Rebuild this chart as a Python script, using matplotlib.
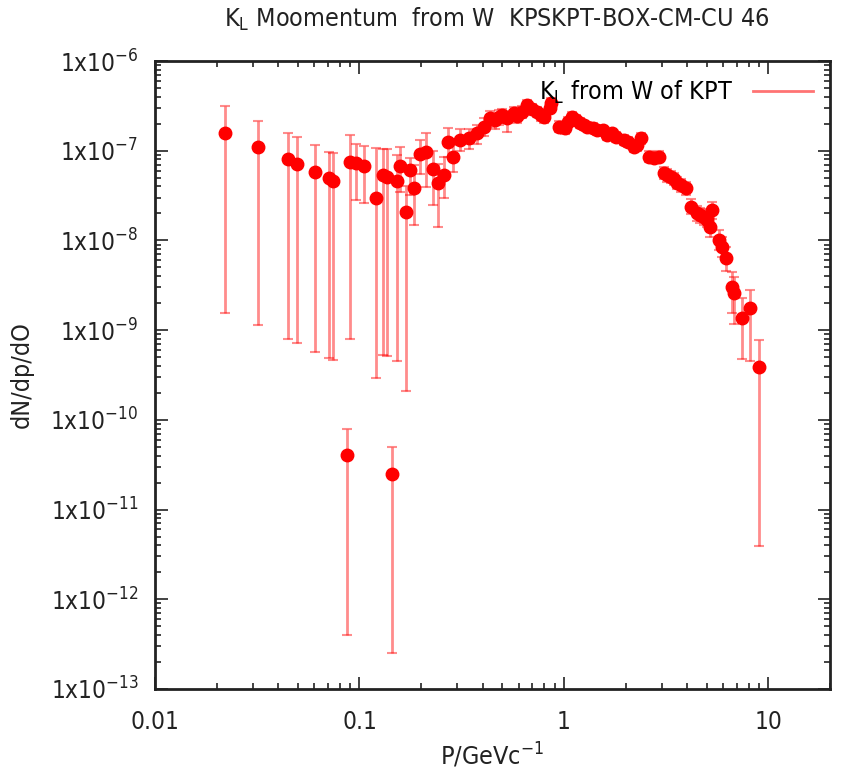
import numpy as np
import matplotlib
matplotlib.use("Agg")
import matplotlib.pyplot as plt
from matplotlib.lines import Line2D
from matplotlib.ticker import LogLocator, FixedLocator, NullFormatter

plt.rcParams['font.family'] = ['DejaVu Sans']
plt.rcParams['font.stretch'] = 'condensed'
plt.rcParams['mathtext.default'] = 'regular'

# K_L momentum spectrum: momentum, dN/dp/dO, and lower / upper ends of the error bars
p = [0.022, 0.0318, 0.0446, 0.0497, 0.0605, 0.0713, 0.0746, 0.0868, 0.090, 0.0965,
     0.1047, 0.1208, 0.131, 0.137, 0.145, 0.152, 0.158, 0.169, 0.176, 0.184,
     0.198, 0.212, 0.229, 0.242, 0.258, 0.271, 0.288, 0.311, 0.342, 0.376,
     0.405, 0.436, 0.46, 0.479, 0.50, 0.526, 0.567, 0.59, 0.624, 0.66,
     0.70, 0.738, 0.77, 0.796, 0.858, 0.868, 0.942, 1.016, 1.05, 1.095,
     1.15, 1.20, 1.25, 1.30, 1.38, 1.45, 1.55, 1.63, 1.72, 1.79,
     1.96, 2.05, 2.19, 2.28, 2.37, 2.60, 2.75, 2.91, 3.08, 3.2,
     3.32, 3.45, 3.58, 3.75, 3.93, 4.16, 4.48, 4.65, 4.83, 5.0,
     5.2, 5.31, 5.72, 5.9, 6.17, 6.65, 6.77, 7.44, 8.11, 8.98]

dndp = [1.57e-7, 1.09e-7, 8.0e-8, 7.1e-8, 5.8e-8, 4.92e-8, 4.63e-8, 4.05e-11, 7.5e-8, 7.3e-8,
        6.75e-8, 3.0e-8, 5.36e-8, 5.1e-8, 2.49e-11, 4.6e-8, 6.75e-8, 2.09e-8, 6.1e-8, 3.8e-8,
        9.2e-8, 9.75e-8, 6.2e-8, 4.33e-8, 5.36e-8, 1.26e-7, 8.6e-8, 1.32e-7, 1.37e-7, 1.56e-7,
        1.85e-7, 2.3e-7, 2.2e-7, 2.39e-7, 2.5e-7, 2.3e-7, 2.61e-7, 2.45e-7, 2.72e-7, 3.23e-7,
        2.9e-7, 2.72e-7, 2.5e-7, 2.39e-7, 2.97e-7, 3.38e-7, 1.85e-7, 1.78e-7, 2.1e-7, 2.39e-7,
        2.2e-7, 2.02e-7, 1.92e-7, 1.85e-7, 1.8e-7, 1.7e-7, 1.7e-7, 1.5e-7, 1.56e-7, 1.43e-7,
        1.32e-7, 1.25e-7, 1.11e-7, 1.15e-7, 1.37e-7, 8.6e-8, 8.4e-8, 8.6e-8, 5.6e-8, 5.3e-8,
        5.13e-8, 4.8e-8, 4.33e-8, 4.1e-8, 3.81e-8, 2.38e-8, 2.0e-8, 1.9e-8, 1.84e-8, 1.7e-8,
        1.42e-8, 2.18e-8, 1.01e-8, 8.5e-9, 6.3e-9, 3.05e-9, 2.61e-9, 1.35e-9, 1.75e-9, 3.9e-10]

err_lo = [1.55e-9, 1.14e-9, 7.9e-10, 7.1e-10, 5.75e-10, 4.9e-10, 4.6e-10, 4.0e-13, 7.9e-10, 2.8e-8,
          2.6e-8, 2.95e-10, 5.3e-10, 5.2e-10, 2.5e-13, 4.5e-10, 3.5e-8, 2.1e-10, 3.2e-8, 1.5e-8,
          5.5e-8, 3.96e-8, 2.5e-8, 1.42e-8, 3.0e-8, 8.5e-8, 5.8e-8, 1.0e-7, 1.05e-7, 1.2e-7,
          1.45e-7, 1.85e-7, 1.75e-7, 1.95e-7, 2.05e-7, 1.63e-7, 2.2e-7, 2.05e-7, 2.3e-7, 2.8e-7,
          2.5e-7, 2.35e-7, 2.15e-7, 2.05e-7, 2.6e-7, 2.95e-7, 1.6e-7, 1.55e-7, 1.85e-7, 2.1e-7,
          1.95e-7, 1.8e-7, 1.7e-7, 1.65e-7, 1.6e-7, 1.5e-7, 1.5e-7, 1.32e-7, 1.38e-7, 1.26e-7,
          1.16e-7, 1.1e-7, 9.7e-8, 1.0e-7, 1.2e-7, 7.5e-8, 7.3e-8, 7.5e-8, 4.8e-8, 4.5e-8,
          4.4e-8, 4.1e-8, 3.7e-8, 3.5e-8, 3.2e-8, 1.95e-8, 1.65e-8, 1.55e-8, 1.5e-8, 1.4e-8,
          1.1e-8, 1.75e-8, 7.8e-9, 6.5e-9, 4.6e-9, 1.55e-9, 1.17e-9, 4.8e-10, 4.5e-10, 3.9e-12]

err_hi = [3.15e-7, 2.16e-7, 1.56e-7, 1.41e-7, 1.15e-7, 9.7e-8, 9.4e-8, 8.0e-11, 1.5e-7, 1.2e-7,
          1.13e-7, 1.08e-7, 1.05e-7, 1.05e-7, 5.0e-11, 9.0e-8, 1.1e-7, 4.0e-8, 8.3e-8, 7.0e-8,
          1.32e-7, 1.57e-7, 1.0e-7, 7.2e-8, 8.5e-8, 1.8e-7, 1.15e-7, 1.75e-7, 1.75e-7, 1.95e-7,
          2.3e-7, 2.75e-7, 2.6e-7, 2.85e-7, 2.95e-7, 2.75e-7, 3.05e-7, 2.9e-7, 3.15e-7, 3.7e-7,
          3.3e-7, 3.1e-7, 2.9e-7, 2.75e-7, 3.4e-7, 3.85e-7, 2.15e-7, 2.05e-7, 2.4e-7, 2.7e-7,
          2.5e-7, 2.3e-7, 2.15e-7, 2.1e-7, 2.05e-7, 1.9e-7, 1.9e-7, 1.7e-7, 1.75e-7, 1.62e-7,
          1.5e-7, 1.42e-7, 1.27e-7, 1.3e-7, 1.56e-7, 9.9e-8, 9.6e-8, 9.9e-8, 6.5e-8, 6.2e-8,
          6.0e-8, 5.6e-8, 5.1e-8, 4.8e-8, 4.5e-8, 2.9e-8, 2.45e-8, 2.3e-8, 2.25e-8, 2.1e-8,
          1.8e-8, 2.7e-8, 1.3e-8, 1.1e-8, 8.5e-9, 4.5e-9, 3.9e-9, 2.3e-9, 2.8e-9, 7.8e-10]

y_decades = [-13, -12, -11, -10, -9, -8, -7, -6]
x_ticks = [0.01, 0.1, 1, 10]
x_ticklabels = ['0.01', '0.1', '1', '10']

p = np.array(p)
dndp = np.array(dndp)
yerr = [dndp - np.array(err_lo), np.array(err_hi) - dndp]

fig = plt.figure(figsize=(8.41, 7.72), dpi=100)
ax = fig.add_axes([155/841, 1 - 689/772, 675/841, 628/772])

ax.errorbar(p, dndp, yerr=yerr, fmt='none', ecolor='red', alpha=0.45,
            elinewidth=2, capsize=3.5, capthick=1.5, zorder=2)
ax.plot(p, dndp, 'o', color='red', markersize=9, zorder=3)

ax.set_xscale('log')
ax.set_yscale('log')
ax.set_xlim(0.01, 20)
ax.set_ylim(1e-13, 1e-6)

ax.xaxis.set_major_locator(FixedLocator(x_ticks))
ax.set_xticklabels(x_ticklabels)
ax.xaxis.set_minor_locator(LogLocator(base=10, subs=np.arange(2, 10), numticks=20))
ax.xaxis.set_minor_formatter(NullFormatter())

ax.yaxis.set_major_locator(FixedLocator([10.0**d for d in y_decades]))
ax.set_yticklabels(['1x10$^{%d}$' % d for d in y_decades])
ax.yaxis.set_minor_locator(LogLocator(base=10, subs=np.arange(2, 10), numticks=20))
ax.yaxis.set_minor_formatter(NullFormatter())

ax.tick_params(which='both', direction='in', top=True, right=True, labelsize=17.5, colors='#222222')
ax.tick_params(axis='x', which='major', length=9, width=1.2, pad=15)
ax.tick_params(axis='y', which='major', length=9, width=1.2, pad=12)
ax.tick_params(which='minor', length=4.5, width=1.2)
for s in ax.spines.values():
    s.set_linewidth(2)
    s.set_color('#222222')

ax.set_xlabel('P/GeVc$^{-1}$', fontsize=18, labelpad=5, color='#222222')
ax.set_ylabel('dN/dp/dO', fontsize=18, labelpad=12, color='#222222')

fig.text(497/841, 1 - 19/772, 'K$_L$ Moomentum  from W  KPSKPT-BOX-CM-CU 46',
         ha='center', va='center', fontsize=18, color='#222222')

handle = Line2D([0], [0], color='red', alpha=0.55, lw=2)
ax.legend(handles=[handle], labels=['K$_L$ from W of KPT'], loc='upper right',
          frameon=False, markerfirst=False, handlelength=2.4, fontsize=18,
          borderaxespad=0.3, handletextpad=0.8)

plt.savefig('out.png', dpi=100)
